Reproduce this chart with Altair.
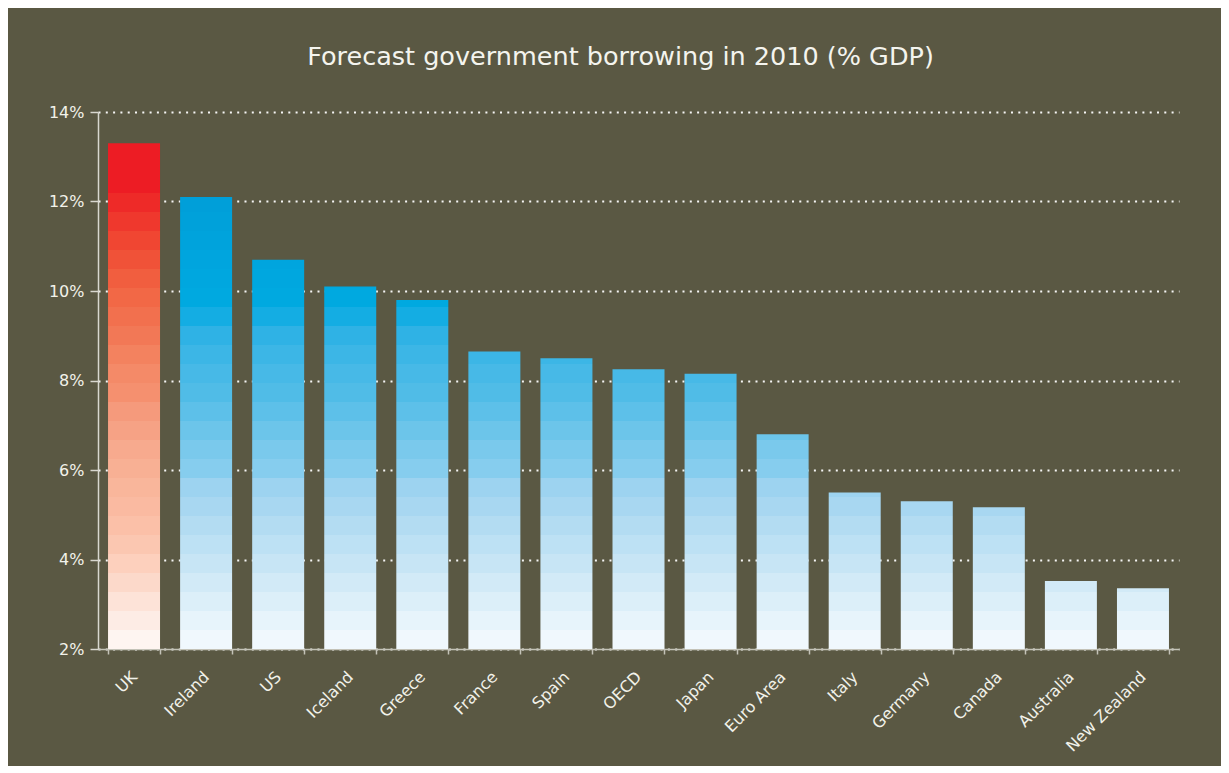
import altair as alt
import pandas as pd

# ---- data ----
countries = ["UK", "Ireland", "US", "Iceland", "Greece", "France", "Spain", "OECD",
             "Japan", "Euro Area", "Italy", "Germany", "Canada", "Australia", "New Zealand"]
borrowing = [13.3, 12.1, 10.7, 10.1, 9.8, 8.65, 8.5, 8.25, 8.15, 6.8, 5.5, 5.3, 5.17, 3.52, 3.36]
highlight = ["UK"]
y_ticks = [2, 4, 6, 8, 10, 12, 14]

# ---- styles ----
BG = "#5a5843"
AXIS_MIN = 2
BAND_STEP = 0.4246
RED_BANDS = ["#fef5f1", "#fdece5", "#fde3d8", "#fcd9ca", "#fdd0bd", "#fbc7b1", "#fbc0a8",
             "#fabaa1", "#f9b69b", "#f8b094", "#f7aa8e", "#f6a285", "#f59a7c", "#f5906f",
             "#f48a68", "#f3825f", "#f27856", "#f2704e", "#f26846", "#f15e3f", "#f05238",
             "#f04632", "#ef382d", "#ee2a28", "#ed1c24"]
BLUE_BANDS = ["#f0f8fd", "#e7f4fb", "#dceff9", "#d2eaf7", "#c7e5f5", "#bde1f4", "#b3dcf2",
              "#a8d7f1", "#9dd3f0", "#86cdee", "#7ac9ec", "#6cc5ea", "#5dc0e9", "#50bce7",
              "#47b9e7", "#3cb6e6", "#2fb2e5", "#14ade3", "#00a9e0", "#00a7df", "#00a5de",
              "#00a3dc", "#00a1da", "#009fd9", "#009dd8"]

rows = []
for c, v in zip(countries, borrowing):
    pal = RED_BANDS if c in highlight else BLUE_BANDS
    top_level = len(pal) - 1
    k = 0
    while True:
        lo = AXIS_MIN + k * BAND_STEP
        if lo >= v:
            break
        hi = v if k >= top_level else min(lo + BAND_STEP, v)
        rows.append({"country": c, "lo": lo, "hi": hi, "color": pal[min(k, top_level)]})
        if hi >= v:
            break
        k += 1
df = pd.DataFrame(rows)

chart = alt.Chart(df).mark_bar(size=52).encode(
    x=alt.X("country:N", sort=countries, title=None,
            scale=alt.Scale(paddingInner=0.28, paddingOuter=0.14),
            axis=alt.Axis(labelAngle=-45, labelAlign="right", labelBaseline="middle",
                          labelPadding=20, tickBand="extent", tickSize=5,
                          domainColor="#c4c3b8", tickColor="#c4c3b8", domainWidth=1.5,
                          tickWidth=1.5, labelColor="#f2f2ea", labelFontSize=16,
                          labelFont="DejaVu Sans", grid=False)),
    y=alt.Y("lo:Q", title=None,
            scale=alt.Scale(domain=[2, 14], nice=False, zero=False),
            axis=alt.Axis(values=y_ticks, labelExpr="datum.value + '%'", tickSize=8,
                          domainColor="#d8d7cf", tickColor="#d8d7cf", domainWidth=1.5,
                          tickWidth=1.5, labelColor="#f2f2ea", labelFontSize=16,
                          labelFont="DejaVu Sans", labelPadding=6,
                          grid=True, gridColor="#ffffff", gridDash=[2, 5.3], gridWidth=2,
                          gridOpacity=0.95)),
    y2="hi:Q",
    color=alt.Color("color:N", scale=None),
).properties(
    width=1081,
    height=537,
    autosize=alt.AutoSizeParams(type="none"),
    padding={"left": 90, "top": 104, "right": 42, "bottom": 117},
    background=BG,
    title=alt.TitleParams("Forecast government borrowing in 2010 (% GDP)", fontSize=25.5,
                          font="DejaVu Sans", fontWeight="normal", color="#f4f4ee",
                          anchor="middle", offset=34, dx=-18),
).configure_view(stroke=None)

chart.save("out.html", embed_options={"renderer": "svg", "actions": False})
